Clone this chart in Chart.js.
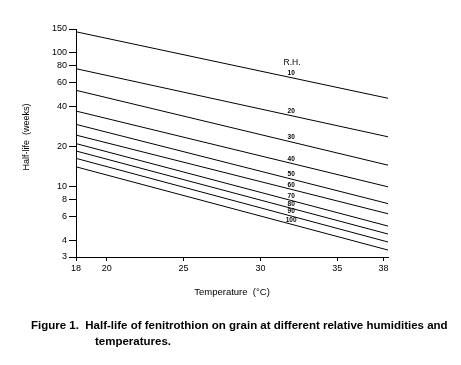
<!DOCTYPE html>
<html>
<head>
<meta charset="utf-8">
<script src="https://cdn.jsdelivr.net/npm/chart.js@4.4.1/dist/chart.umd.min.js"></script>
<style>
  body { margin: 0; background: #fff; }
  #wrap { position: relative; width: 461px; height: 365px; }
  canvas { position: absolute; left: 0; top: 0; }
  .cap { position: absolute; font: bold 11.5px "Liberation Sans", Arial, sans-serif; white-space: nowrap; color: #000; }
</style>
</head>
<body>
<div id="wrap">
  <canvas id="myChart" width="461" height="365"></canvas>
  <div class="cap" style="left:31px;top:319px">Figure 1.&nbsp; Half-life of fenitrothion on grain at different relative humidities and</div>
  <div class="cap" style="left:95px;top:335px">temperatures.</div>
</div>
<script>
// temperature (°C) at the two ends of each line
const temps = [18, 38.3];
// relative humidity labels
const rhLabels = ['10', '20', '30', '40', '50', '60', '70', '80', '90', '100'];
// half-life (weeks) at 18 °C and 38.3 °C
const rh10 = [143, 45.7];
const rh20 = [75.9, 23.6];
const rh30 = [52.4, 14.5];
const rh40 = [36.7, 10.0];
const rh50 = [29.2, 7.5];
const rh60 = [24.3, 6.3];
const rh70 = [21.0, 5.1];
const rh80 = [18.5, 4.45];
const rh90 = [16.3, 3.88];
const rh100 = [14.1, 3.38];
const allSeries = [rh10, rh20, rh30, rh40, rh50, rh60, rh70, rh80, rh90, rh100];

const xTicks = [18, 20, 25, 30, 35, 38];
const yTicks = [3, 4, 6, 8, 10, 20, 40, 60, 80, 100, 150];
const LABEL_X = 32; // where the R.H. numbers sit

const FONT = '"Liberation Sans", Arial, sans-serif';

const datasets = allSeries.map((vals, i) => ({
  label: rhLabels[i],
  data: vals.map((v, j) => ({x: temps[j], y: v})),
  borderColor: '#000',
  borderWidth: 1,
  pointRadius: 0,
  fill: false,
}));

// axis titles and line labels
const textPlugin = {
  id: 'texts',
  afterDraw(chart) {
    const c = chart.ctx;
    const xs = chart.scales.x;
    const ys = chart.scales.y;
    c.save();
    c.fillStyle = '#000';
    c.textAlign = 'center';
    c.textBaseline = 'middle';

    c.font = '9.5px ' + FONT;
    c.fillText('Temperature  (°C)', 232, 292);

    c.save();
    c.translate(27, 137);
    c.rotate(-Math.PI / 2);
    c.font = '9px ' + FONT;
    c.fillText('Half-life  (weeks)', 0, 0);
    c.restore();

    c.font = '8.5px ' + FONT;
    c.fillText('R.H.', 292, 63);

    c.font = 'bold 6.5px ' + FONT;
    const px = xs.getPixelForValue(LABEL_X);
    chart.data.datasets.forEach((ds, i) => {
      const p0 = ds.data[0], p1 = ds.data[1];
      const x0 = xs.getPixelForValue(p0.x), x1 = xs.getPixelForValue(p1.x);
      const y0 = ys.getPixelForValue(p0.y), y1 = ys.getPixelForValue(p1.y);
      const py = y0 + (y1 - y0) * (px - x0) / (x1 - x0);
      c.fillText(rhLabels[i], px, py - 4.5);
    });
    c.restore();
  }
};

const ctx = document.getElementById('myChart');
const myChart = new Chart(ctx, {
  type: 'line',
  data: {datasets: datasets},
  options: {
    responsive: false,
    animation: false,
    layout: {padding: {top: 29, right: 73, left: 0, bottom: 0}},
    plugins: {legend: {display: false}, tooltip: {enabled: false}},
    scales: {
      x: {
        type: 'linear',
        min: 18,
        max: 38.3,
        afterBuildTicks: (s) => { s.ticks = xTicks.map((v) => ({value: v})); },
        afterFit: (s) => { s.height = 108; },
        grid: {drawOnChartArea: false, tickLength: 4, color: '#000'},
        border: {color: '#000', width: 1},
        ticks: {color: '#000', font: {family: FONT, size: 9}, padding: 2, maxRotation: 0, autoSkip: false},
      },
      y: {
        type: 'logarithmic',
        min: 3,
        max: 150,
        afterBuildTicks: (s) => { s.ticks = yTicks.map((v) => ({value: v})); },
        afterFit: (s) => { s.width = 76; },
        grid: {drawOnChartArea: false, tickLength: 7, color: '#000'},
        border: {color: '#000', width: 1},
        ticks: {color: '#000', font: {family: FONT, size: 9}, padding: 2, autoSkip: false,
          callback: (v) => String(v)},
      },
    },
  },
  plugins: [textPlugin],
});
</script>
</body>
</html>
